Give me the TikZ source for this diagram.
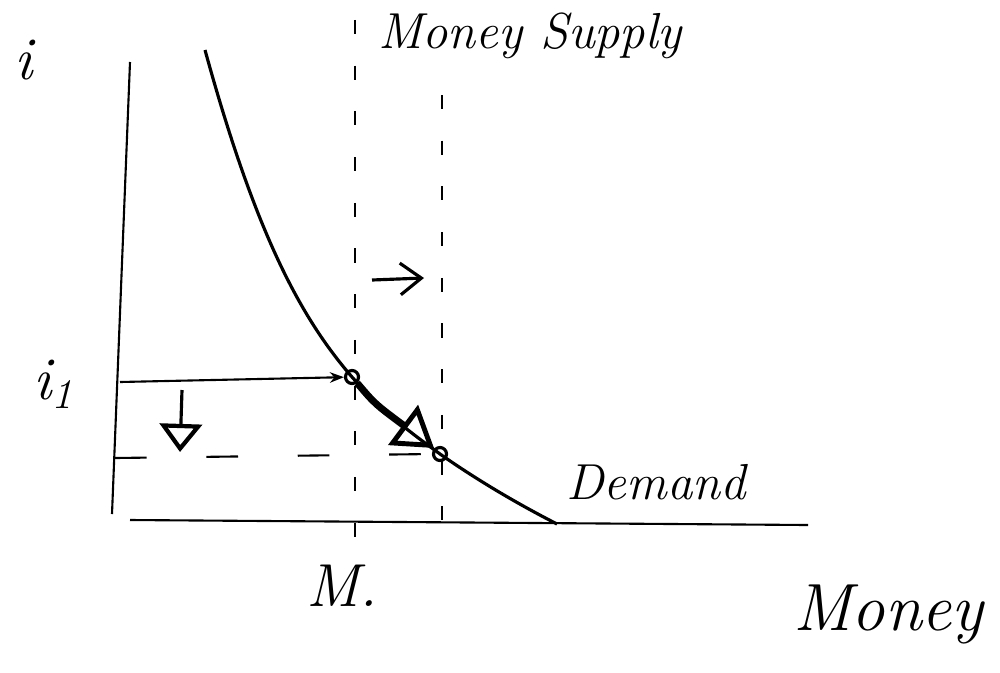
\documentclass[tikz,border=0pt]{standalone}
\usepackage{tikz}
\usetikzlibrary{arrows.meta,positioning}

\begin{document}
\begin{tikzpicture}[
        scale=1.0,
        axis/.style={line width=0.6pt},
        supply/.style={line width=0.6pt, dash pattern=on 4pt off 9pt},
        eqpt/.style={circle, draw, line width=0.9pt, inner sep=0pt, minimum size=0.13cm},
        lbl/.style={font=\itshape},
    ]
        \useasboundingbox (0, 0) rectangle (10, 6.72);

        % Axes
        \coordinate (YTOP) at (1.30, 6.10);
        \coordinate (YBOT) at (1.12, 1.58);
        \coordinate (XLEFT) at (1.30, 1.52);
        \coordinate (XRIGHT) at (8.08, 1.47);
        \draw[axis] (YTOP) -- (YBOT);
        \draw[axis] (XLEFT) -- (XRIGHT);

        % Money supply lines (old and new)
        \coordinate (MSA) at (3.55, 6.52);
        \coordinate (MSAB) at (3.55, 1.27);
        \coordinate (MSB) at (4.42, 5.77);
        \coordinate (MSBB) at (4.42, 1.30);
        \draw[supply] (MSA) -- (MSAB);
        \draw[supply] (MSB) -- (MSBB);

        % Equilibrium points
        \node[eqpt] (E1) at (3.52, 2.95) {};
        \node[eqpt] (E2) at (4.40, 2.18) {};

        % Demand curve
        \draw[line width=0.9pt] (2.05, 6.22) .. controls (2.55, 4.40) and (3.00, 3.55) .. (E1.center)
            .. controls (3.85, 2.58) and (4.10, 2.40) .. (E2.center)
            .. controls (4.80, 1.90) and (5.20, 1.67) .. (5.57, 1.48);

        % Rate lines
        \coordinate (IONE) at (1.20, 2.90);
        \coordinate (ITWO) at (1.15, 2.14);
        \draw[line width=0.6pt, -{Stealth[length=4pt, width=3pt]}] (IONE) -- (E1);
        \draw[line width=0.6pt, dash pattern=on 9pt off 17pt] (ITWO) -- (E2.west);

        % Shift arrows
        \coordinate (DOWNA) at (1.82, 2.82);
        \coordinate (DOWNB) at (1.80, 2.20);
        \draw[line width=0.9pt, -{Triangle[open, length=8pt, width=12pt, line width=1.2pt]}] (DOWNA) -- (DOWNB);
        \coordinate (RIGHTA) at (3.72, 3.92);
        \coordinate (RIGHTB) at (4.24, 3.94);
        \draw[line width=0.9pt, -{Straight Barb[length=6pt, width=9pt]}] (RIGHTA) -- (RIGHTB);
        \draw[line width=2pt, -{Triangle[open, length=11pt, width=14pt, line width=1.4pt]}] (E1) .. controls (3.75, 2.68) .. (4.34, 2.24);

        % Labels
        \node[lbl, font=\LARGE\itshape] (ILBL) at (0.24, 6.12) {i};
        \node[lbl, font=\LARGE\itshape] (IONELBL) at (0.54, 2.88) {i\textsubscript{1}};
        \node[lbl, font=\Large\itshape] (MSLBL) at (5.30, 6.36) {Money Supply};
        \node[lbl, font=\Large\itshape] (DLBL) at (6.56, 1.90) {Demand};
        \node[lbl, font=\LARGE\itshape] (MLBL) at (3.42, 0.86) {M.};
        \node[lbl, font=\fontsize{19}{23}\selectfont\itshape, anchor=east] (XLBL) at (9.96, 0.58) {Money};
    \end{tikzpicture}
\end{document}
